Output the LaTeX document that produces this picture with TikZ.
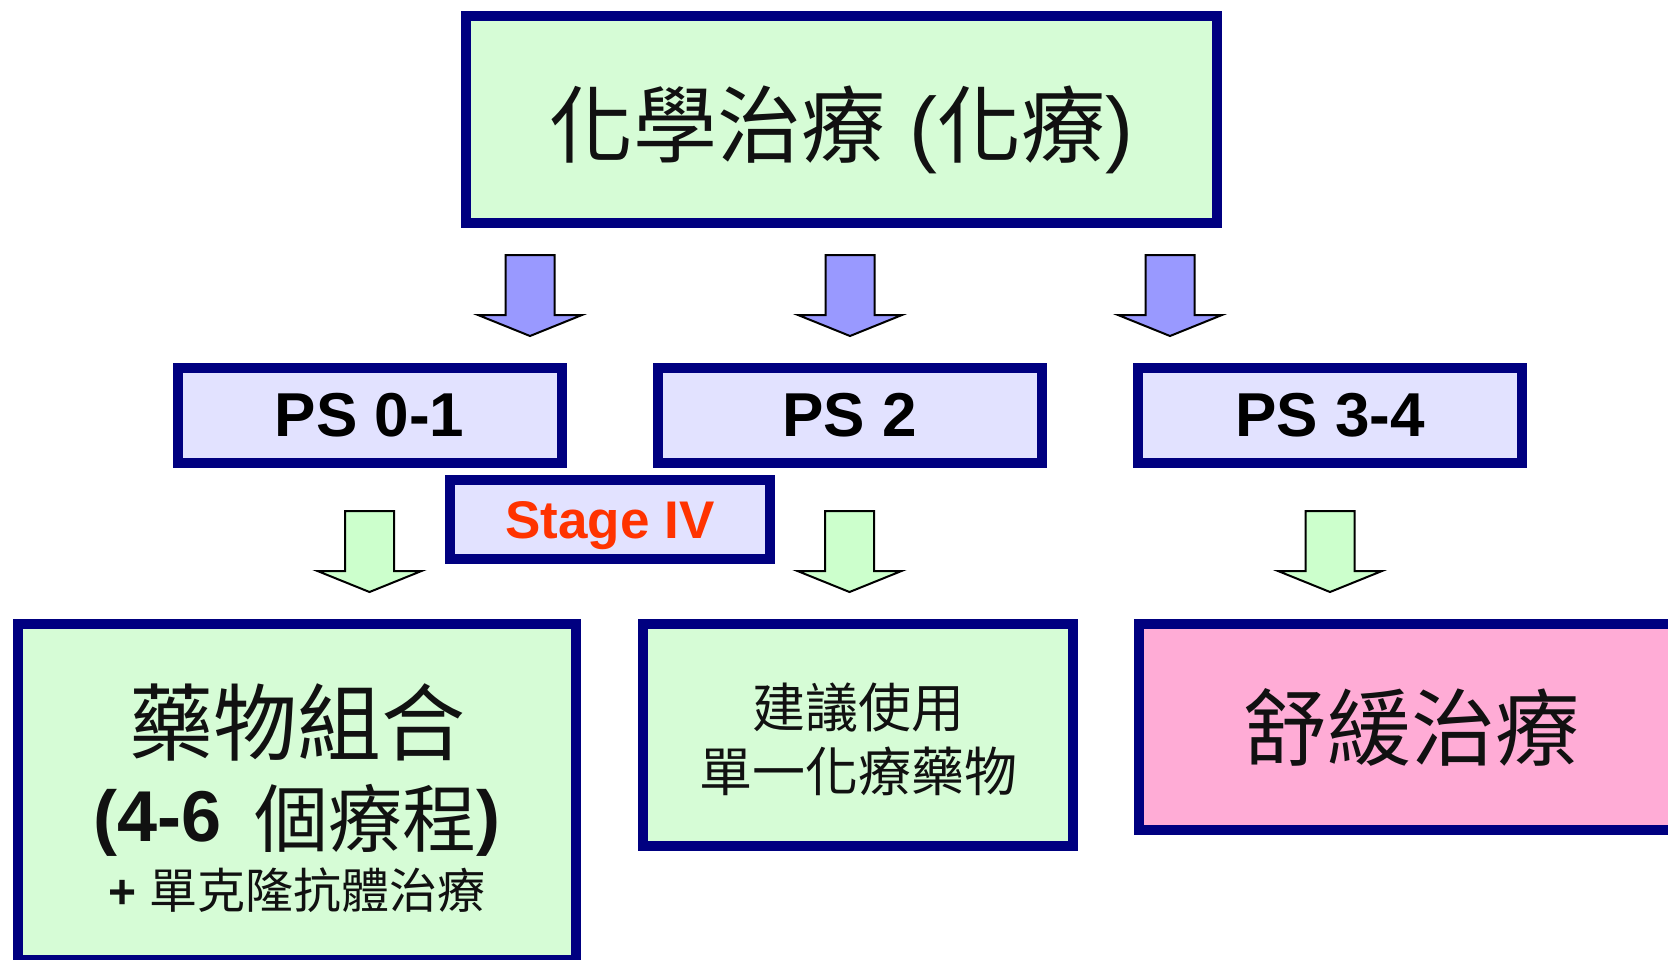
\documentclass[tikz,border=0pt]{standalone}
\usepackage{fontspec}
\setmainfont{Liberation Sans}
\newfontfamily\cjk{Noto Sans CJK TC}
\definecolor{navy}{RGB}{0,0,128}
\definecolor{gfill}{RGB}{214,252,214}
\definecolor{bfill}{RGB}{226,226,255}
\definecolor{pfill}{RGB}{255,172,214}
\definecolor{barrow}{RGB}{153,153,255}
\definecolor{garrow}{RGB}{204,255,204}
\definecolor{stagered}{RGB}{255,51,0}
\definecolor{ink}{RGB}{17,17,17}
\newcommand\blkarrow[3]{%
  \draw[#1] (#2-24.5,#3) -- (#2+24.5,#3) -- (#2+24.5,#3+60) -- (#2+52,#3+60)
    -- (#2,#3+81) -- (#2-52,#3+60) -- (#2-24.5,#3+60) -- cycle;}
\begin{document}
\begin{tikzpicture}[x=1pt,y=-1pt,
  box/.style={rectangle, draw=navy, line width=10pt, inner sep=0pt, outer sep=0pt, text=ink},
  greenbox/.style={box, fill=gfill},
  bluebox/.style={box, fill=bfill},
  pinkbox/.style={box, fill=pfill},
  bigcjk/.style={font=\cjk\fontsize{84}{96}\selectfont, text=ink},
  pslabel/.style={font=\bfseries\fontsize{62}{70}\selectfont, text=black},
  linetext/.style={anchor=base, inner sep=0pt, text=ink},
  bluearr/.style={fill=barrow, draw=black, line width=2pt, line join=miter},
  greenarr/.style={fill=garrow, draw=black, line width=2pt, line join=miter}]
\useasboundingbox (0,0) rectangle (1668,960);
\clip (0,0) rectangle (1668,960);
\fill[white] (0,0) rectangle (1668,960);

% top box
\node[greenbox, minimum width=751pt, minimum height=207pt, text height=85pt, text depth=10pt,
  font=\fontsize{84}{96}\selectfont] (chemo) at (841.5,119.5)
  {{\cjk 化學治療} ({\cjk 化療})};

% blue arrows
\blkarrow{bluearr}{530}{255}
\blkarrow{bluearr}{850}{255}
\blkarrow{bluearr}{1170}{255}

% PS boxes
\node[bluebox, minimum width=384pt, minimum height=95pt, pslabel] (ps01) at (369.5,415) {PS 0-1};
\node[bluebox, minimum width=384pt, minimum height=95pt, pslabel] (ps2) at (849.5,415) {PS 2};
\node[bluebox, minimum width=384pt, minimum height=95pt, pslabel] (ps34) at (1330,415) {PS 3-4};

% Stage IV
\node[bluebox, minimum width=320pt, minimum height=79pt, text height=45pt, text depth=8pt,
  font=\bfseries\fontsize{53}{60}\selectfont, text=stagered] (stage) at (610,519.5) {Stage IV};

% green arrows
\blkarrow{greenarr}{369.5}{511}
\blkarrow{greenarr}{849.5}{511}
\blkarrow{greenarr}{1330}{511}

% bottom boxes
\node[greenbox, minimum width=558pt, minimum height=336pt] (combo) at (297,792) {};
\node[linetext, bigcjk] (combo1) at (297,754) {藥物組合};
\node[linetext, font=\fontsize{72}{80}\selectfont] (combo2) at (297,846)
  {\raisebox{5pt}{\textbf{(4-6}}\hspace{0.45em}{\cjk\fontsize{74}{80}\selectfont 個療程}\raisebox{5pt}{\textbf{)}}};
\node[linetext, font=\fontsize{48}{56}\selectfont] (combo3) at (297,908)
  {\textbf{+ }{\cjk 單克隆抗體治療}};

\node[greenbox, minimum width=430pt, minimum height=222pt] (single) at (858,735) {};
\node[linetext, font=\cjk\fontsize{53}{60}\selectfont] (single1) at (858,727) {建議使用};
\node[linetext, font=\cjk\fontsize{53}{60}\selectfont] (single2) at (858,791) {單一化療藥物};

\node[pinkbox, minimum width=544pt, minimum height=206pt, bigcjk] (palli) at (1411,727) {舒緩治療};
\end{tikzpicture}
\end{document}
